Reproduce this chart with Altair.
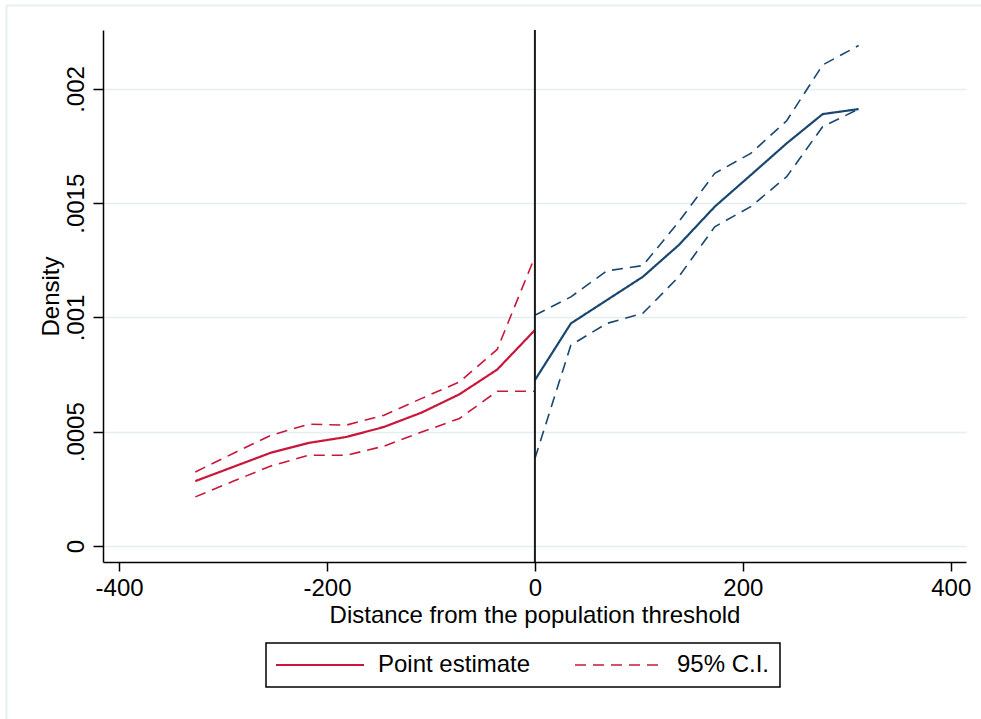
import altair as alt
import pandas as pd

# Bin midpoints on each side of the population threshold
x_left = [-326.7, -290.4, -254.1, -217.8, -181.5, -145.2, -108.9, -72.6, -36.3, 0.0]
x_right = [0.0, 34.6, 69.2, 103.8, 138.4, 173.0, 207.6, 242.2, 276.8, 311.4]

# Density estimates and 95% confidence bounds, left of the threshold
est_left = [0.000284, 0.000346, 0.000408, 0.000451, 0.000477, 0.000521, 0.000584, 0.000664, 0.000772, 0.000945]
hi_left = [0.000324, 0.000405, 0.000484, 0.000533, 0.000529, 0.000572, 0.000646, 0.000718, 0.000860, 0.001266]
lo_left = [0.000215, 0.000283, 0.000350, 0.000397, 0.000397, 0.000437, 0.000499, 0.000558, 0.000677, 0.000677]

# Density estimates and 95% confidence bounds, right of the threshold
est_right = [0.000726, 0.000974, 0.001076, 0.001178, 0.001317, 0.001485, 0.001623, 0.001762, 0.001890, 0.001912]
hi_right = [0.001010, 0.001090, 0.001204, 0.001227, 0.001419, 0.001631, 0.001718, 0.001861, 0.002105, 0.002190]
lo_right = [0.000383, 0.000879, 0.000974, 0.001018, 0.001178, 0.001397, 0.001485, 0.001616, 0.001835, 0.001912]

x_ticks = [-400, -200, 0, 200, 400]
y_ticks = [0, 0.0005, 0.001, 0.0015, 0.002]

RED = "#c8173b"
NAVY = "#1a476f"
FONT = "Liberation Sans"

rows = []
for side, xs, series in [
    ("left", x_left, [("est", "Point estimate", est_left), ("hi", "95% C.I.", hi_left), ("lo", "95% C.I.", lo_left)]),
    ("right", x_right, [("est", "Point estimate", est_right), ("hi", "95% C.I.", hi_right), ("lo", "95% C.I.", lo_right)]),
]:
    for key, kind, ys in series:
        for xv, yv in zip(xs, ys):
            rows.append({"x": xv, "y": yv, "side": side, "kind": kind, "series": f"{side}-{key}"})
df = pd.DataFrame(rows)

x_scale = alt.Scale(domain=[-415.5, 414.7], nice=False, zero=False)
y_scale = alt.Scale(domain=[-0.00007, 0.002258], nice=False, zero=False)

lines = alt.Chart(df).mark_line(clip=True).encode(
    x=alt.X(
        "x:Q",
        scale=x_scale,
        title="Distance from the population threshold",
        axis=alt.Axis(
            values=x_ticks,
            labelExpr="datum.value < 0 ? '-' + format(-datum.value, 'd') : format(datum.value, 'd')",
            grid=False, tickSize=9, labelPadding=5,
            labelFlush=False, labelOverlap=False, titleY=41, titleBaseline="top",
        ),
    ),
    y=alt.Y(
        "y:Q",
        scale=y_scale,
        title="Density",
        axis=alt.Axis(
            values=y_ticks,
            labelExpr="datum.value == 0 ? '0' : slice(format(datum.value, '.4~f'), 1)",
            labelAngle=-90, labelAlign="center", labelBaseline="alphabetic",
            labelPadding=10, tickSize=10, labelFlush=False, labelOverlap=False,
            grid=True, gridColor="#e4edef", gridWidth=1.5,
            titleAngle=270, titleX=-45, titleY=266, titleBaseline="alphabetic", titleAlign="center",
        ),
    ),
    color=alt.Color("side:N", scale=alt.Scale(domain=["left", "right"], range=[RED, NAVY]), legend=None),
    strokeDash=alt.StrokeDash(
        "kind:N",
        scale=alt.Scale(domain=["Point estimate", "95% C.I."], range=[[1, 0], [11, 7]]),
        legend=alt.Legend(
            title=None, orient="none", legendX=163, legendY=613, direction="horizontal",
            symbolType="M-5,0H5", symbolSize=310, symbolOffset=32, labelOffset=46,
            symbolStrokeColor=RED, symbolStrokeWidth=2, columnPadding=40,
            labelFont=FONT, labelFontSize=24, labelColor="black",
            padding=10, strokeColor="black", fillColor="white",
        ),
    ),
    strokeWidth=alt.StrokeWidth(
        "kind:N", scale=alt.Scale(domain=["Point estimate", "95% C.I."], range=[2.2, 1.6]), legend=None
    ),
    detail="series:N",
)

threshold = alt.Chart(pd.DataFrame({"x": [0]})).mark_rule(color="#1a1a1a", strokeWidth=2).encode(
    x=alt.X("x:Q", scale=x_scale)
)

# faint outer frame along the top and left edges of the graph region
frame_top = alt.Chart().mark_rule(color="#e6eff0", strokeWidth=2).encode(
    x=alt.value(-96.5), x2=alt.value(900), y=alt.value(-24.5)
)
frame_left = alt.Chart().mark_rule(color="#e6eff0", strokeWidth=2).encode(
    x=alt.value(-96.5), y=alt.value(-24.5), y2=alt.value(700)
)

chart = (
    alt.layer(frame_top, frame_left, lines, threshold)
    .properties(
        width=863, height=532,
        autosize=alt.AutoSizeParams(type="none"),
        padding={"left": 103, "top": 30, "right": 15, "bottom": 157},
        background="white",
    )
    .configure_view(stroke=None)
    .configure_axis(
        domainColor="black", domainWidth=1.5, tickColor="black", tickWidth=1.5,
        labelFont=FONT, labelFontSize=24, labelColor="black",
        titleFont=FONT, titleFontSize=24, titleFontWeight="normal", titleColor="black",
    )
    .configure_legend(strokeWidth=1.5)
)

chart.save("out.html", embed_options={"renderer": "svg", "actions": False})
